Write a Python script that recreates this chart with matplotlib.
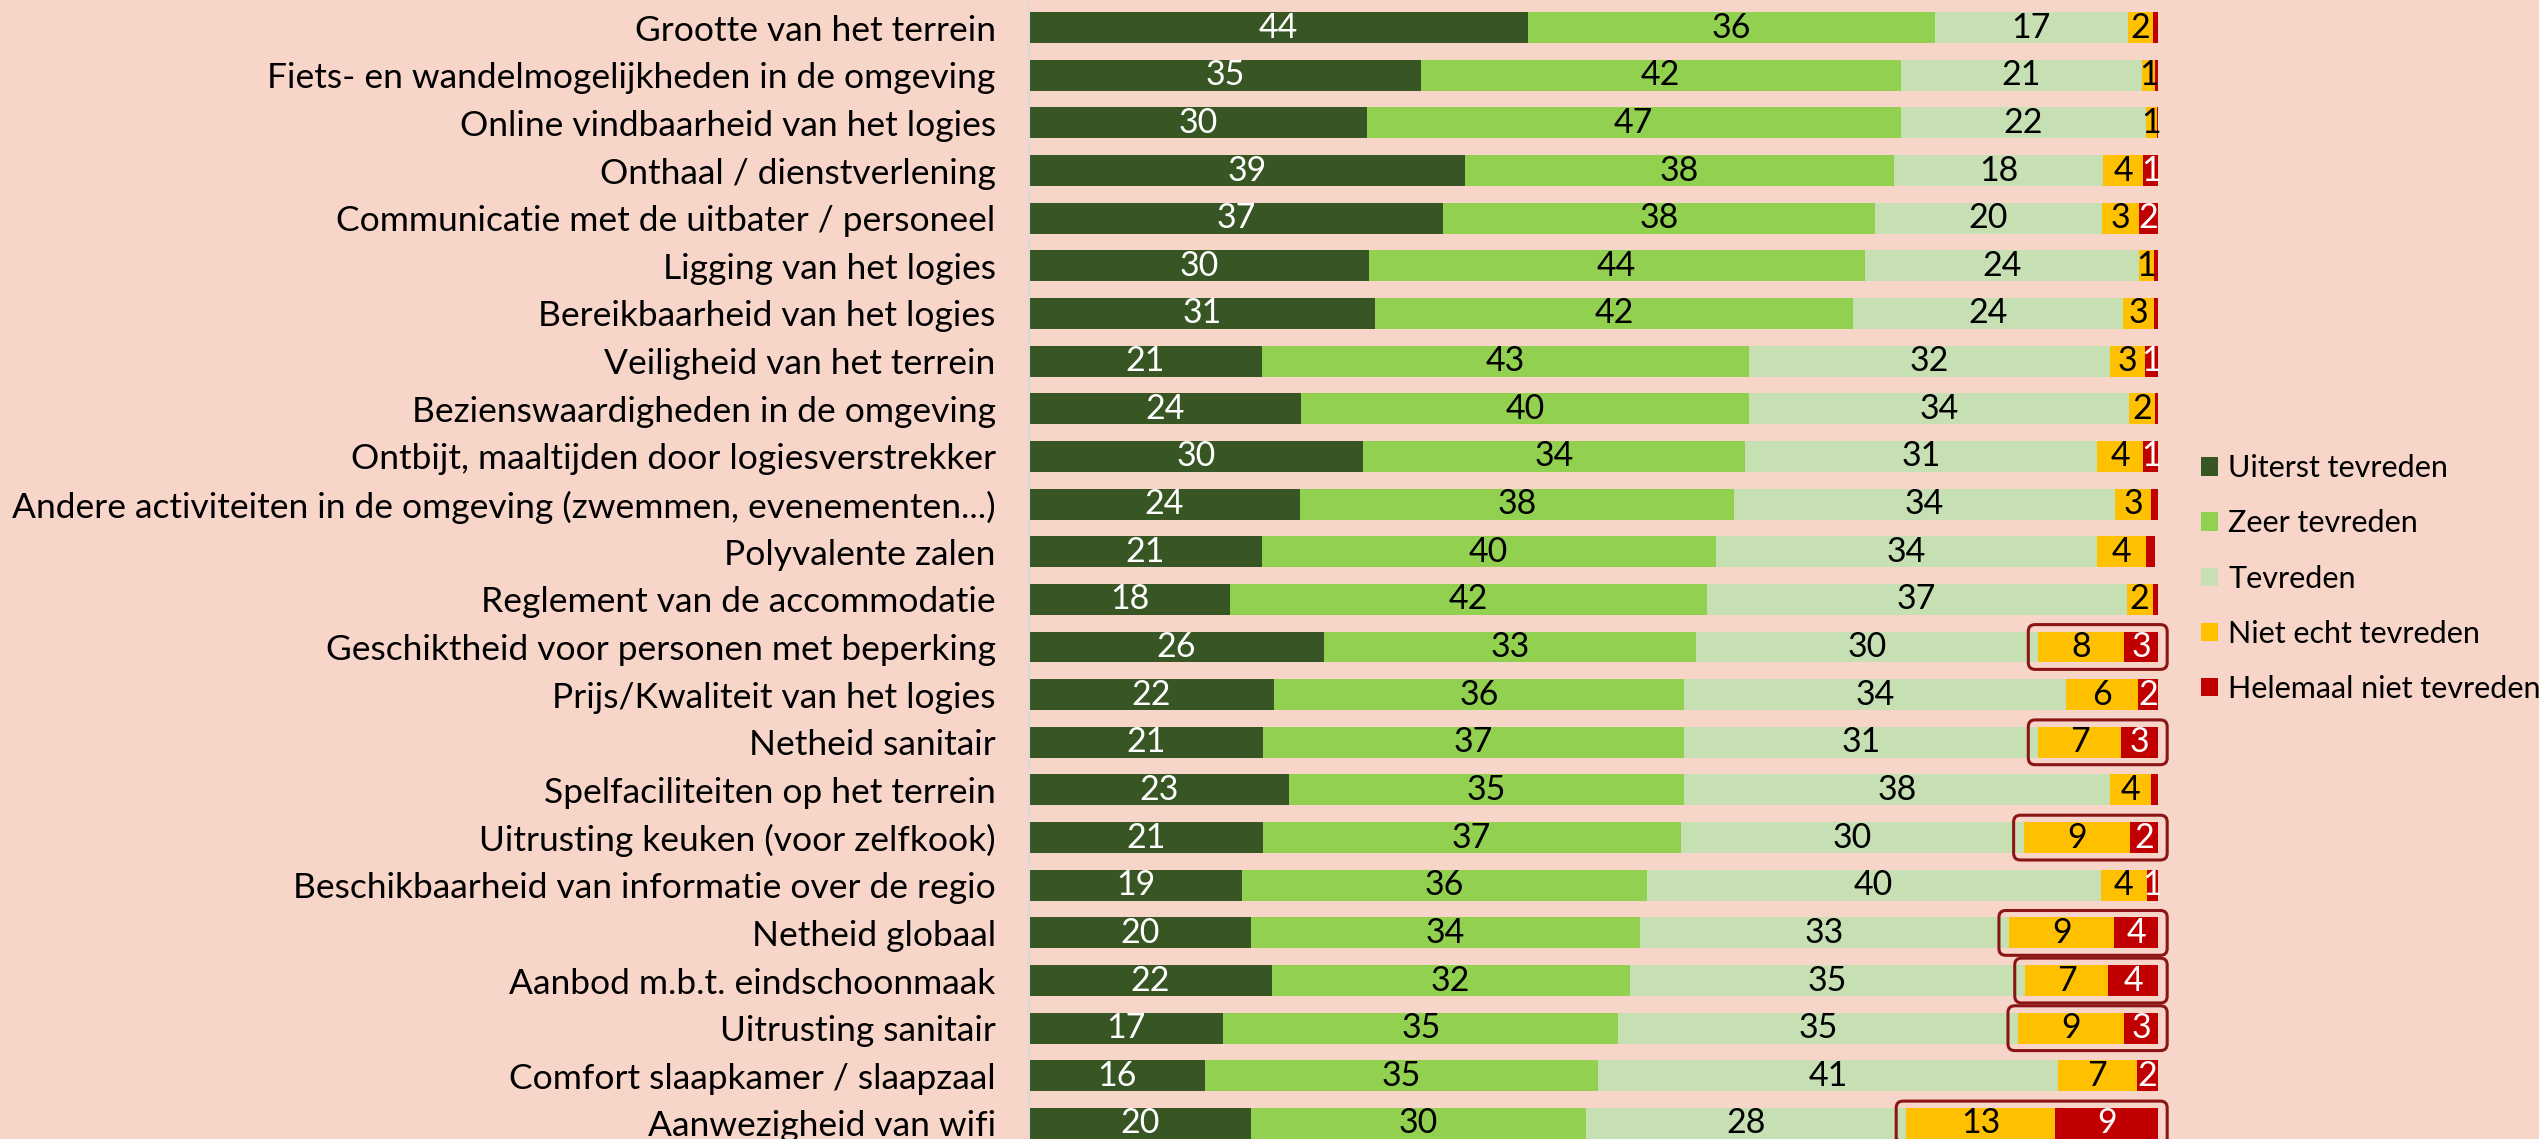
import matplotlib.pyplot as plt
from matplotlib.patches import FancyBboxPatch, Patch

plt.rcParams['font.family'] = ['Lato', 'DejaVu Sans']

categories = [
    "Grootte van het terrein",
    "Fiets- en wandelmogelijkheden in de omgeving",
    "Online vindbaarheid van het logies",
    "Onthaal / dienstverlening",
    "Communicatie met de uitbater / personeel",
    "Ligging van het logies",
    "Bereikbaarheid van het logies",
    "Veiligheid van het terrein",
    "Bezienswaardigheden in de omgeving",
    "Ontbijt, maaltijden door logiesverstrekker",
    "Andere activiteiten in de omgeving (zwemmen, evenementen...)",
    "Polyvalente zalen",
    "Reglement van de accommodatie",
    "Geschiktheid voor personen met beperking",
    "Prijs/Kwaliteit van het logies",
    "Netheid sanitair",
    "Spelfaciliteiten op het terrein",
    "Uitrusting keuken (voor zelfkook)",
    "Beschikbaarheid van informatie over de regio",
    "Netheid globaal",
    "Aanbod m.b.t. eindschoonmaak",
    "Uitrusting sanitair",
    "Comfort slaapkamer / slaapzaal",
    "Aanwezigheid van wifi",
]

uiterst = [44.2, 34.7, 29.9, 38.6, 36.7, 30.1, 30.6, 20.6, 24.1, 29.6, 24.0, 20.6,
           17.8, 26.1, 21.7, 20.7, 23.0, 20.7, 18.9, 19.7, 21.5, 17.2, 15.6, 19.7]
zeer = [36.0, 42.5, 47.3, 38.0, 38.2, 43.9, 42.4, 43.2, 39.7, 33.8, 38.4, 40.2,
        42.2, 33.0, 36.3, 37.3, 35.0, 37.0, 35.8, 34.4, 31.7, 35.0, 34.8, 29.6]
tevreden = [17.1, 21.4, 21.7, 18.5, 20.1, 24.3, 23.9, 31.9, 33.6, 31.2, 33.8, 33.8,
            37.2, 30.3, 33.8, 31.4, 37.7, 30.4, 40.2, 32.7, 35.0, 35.4, 40.7, 28.4]
niet_echt = [2.2, 1.1, 1.0, 3.6, 3.3, 1.3, 2.7, 3.1, 2.3, 4.1, 3.2, 4.3,
             2.3, 7.6, 6.4, 7.3, 3.7, 9.4, 4.1, 9.3, 7.4, 9.4, 7.0, 13.2]
helemaal = [0.5, 0.3, 0.1, 1.3, 1.7, 0.4, 0.4, 1.2, 0.3, 1.3, 0.6, 0.8,
            0.5, 3.0, 1.8, 3.3, 0.6, 2.5, 1.0, 3.9, 4.4, 3.0, 1.9, 9.1]

series_names = ["Uiterst tevreden", "Zeer tevreden", "Tevreden",
                "Niet echt tevreden", "Helemaal niet tevreden"]
series = [uiterst, zeer, tevreden, niet_echt, helemaal]
colors = ["#375623", "#92D050", "#C6E0B4", "#FFC000", "#C00000"]
text_colors = ["white", "black", "black", "black", "white"]

# rows where the dissatisfied part is circled
highlight = [13, 15, 17, 19, 20, 21, 23]

bg = "#F7D5C9"
fig = plt.figure(figsize=(25.39, 11.39), dpi=100, facecolor=bg)
ax = fig.add_axes([0.4053, -0.0073, 0.4447, 1.004])
ax.set_facecolor(bg)

y = list(range(len(categories)))
left = [0.0] * len(categories)
for vals, name, col, tcol in zip(series, series_names, colors, text_colors):
    ax.barh(y, vals, left=left, height=0.65, color=col, label=name)
    for i, v in enumerate(vals):
        if v >= 0.95:
            ax.text(left[i] + v / 2, i, f"{round(v)}", ha="center", va="center",
                    color=tcol, fontsize=24.5)
    left = [l + v for l, v in zip(left, vals)]

# rounded boxes around the orange/red segments
aspect = (1 / 47.65) / (100 / 1129)
for i in highlight:
    start = uiterst[i] + zeer[i] + tevreden[i]
    x0 = start - 0.9
    x1 = 100.8
    box = FancyBboxPatch((x0, i - 0.47), x1 - x0, 0.94,
                         boxstyle="round,pad=0,rounding_size=0.6",
                         mutation_aspect=aspect, fill=False,
                         edgecolor="#8B1414", linewidth=2.2, clip_on=False, zorder=5)
    ax.add_patch(box)

ax.set_xlim(0, 100)
ax.set_ylim(23.5, -0.5)
ax.set_yticks(y)
ax.set_yticklabels(categories, fontsize=25.5)
ax.tick_params(axis="y", length=0, pad=24)
ax.set_xticks([])
for s in ["top", "right", "bottom"]:
    ax.spines[s].set_visible(False)
ax.spines["left"].set_color("#D9D9D9")
ax.spines["left"].set_linewidth(1.5)

handles = [Patch(facecolor=c, edgecolor="none") for c in colors]
fig.legend(handles, series_names, loc="upper left", bbox_to_anchor=(0.862, 0.612),
           frameon=False, fontsize=22, handlelength=0.55, handleheight=0.55,
           handletextpad=0.35, labelspacing=0.89, borderaxespad=0)

fig.savefig("out.png", dpi=100, facecolor=bg)
